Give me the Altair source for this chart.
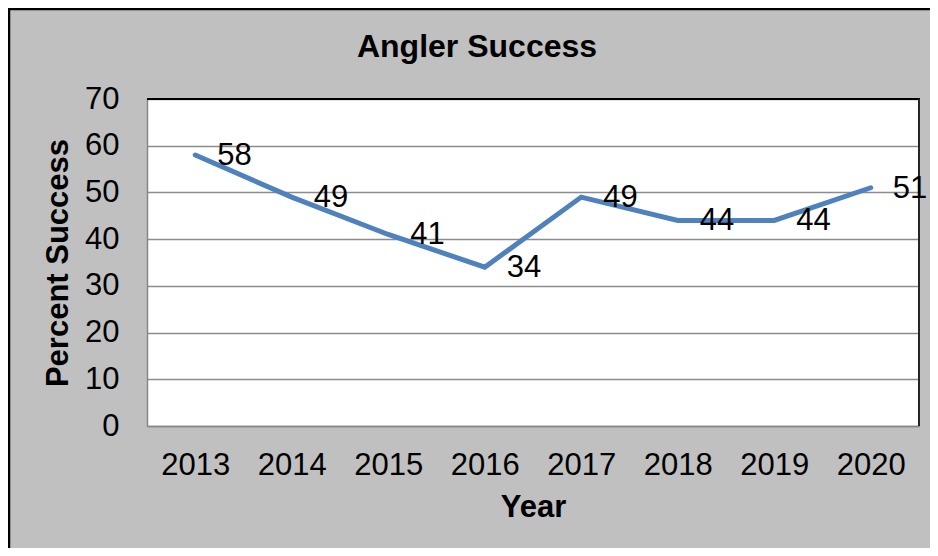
import altair as alt
import pandas as pd

years = ["2013", "2014", "2015", "2016", "2017", "2018", "2019", "2020"]
success = [58, 49, 41, 34, 49, 44, 44, 51]
y_ticks = [0, 10, 20, 30, 40, 50, 60, 70]
chart_title = "Angler Success"

FONT = "Liberation Sans"
PW, PH = 772, 327
PAD_L, PAD_T, PAD_R, PAD_B = 139, 91, 11, 122

df = pd.DataFrame({"Year": years, "Success": success})

x_enc = alt.X("Year:O", sort=years,
              scale=alt.Scale(type="point", padding=0.5),
              axis=alt.Axis(title="Year", labelAngle=0, ticks=False, grid=False,
                            labelPadding=24, titlePadding=12,
                            domainColor="#868686", domainWidth=1.5))
y_enc = alt.Y("Success:Q", scale=alt.Scale(domain=[0, 70], nice=False),
              axis=alt.Axis(title="Percent Success", values=y_ticks, ticks=False,
                            labelPadding=28, titlePadding=10,
                            domainColor="#868686", domainWidth=1.5,
                            gridColor="#8c8c8c", gridWidth=1.5))

line = alt.Chart(df).mark_line(color="#4f81bd", strokeWidth=5, strokeCap="round",
                               strokeJoin="miter").encode(x=x_enc, y=y_enc)
labels = alt.Chart(df).mark_text(align="left", baseline="middle", dx=22, dy=1,
                                 fontSize=31, font=FONT, color="black").encode(
    x=alt.X("Year:O", sort=years), y="Success:Q", text="Success:Q")

one = pd.DataFrame({"t": [chart_title]})
top_border = alt.Chart(one).mark_rule(color="black", strokeWidth=2).encode(
    x=alt.value(0), x2=alt.value(PW + 1), y=alt.value(0))
right_border = alt.Chart(one).mark_rule(color="#262626", strokeWidth=2).encode(
    x=alt.value(PW), y=alt.value(0), y2=alt.value(PH))
outer_top = alt.Chart(one).mark_rule(color="black", strokeWidth=2.5).encode(
    x=alt.value(-PAD_L), x2=alt.value(PW + PAD_R), y=alt.value(-PAD_T + 1))
outer_left = alt.Chart(one).mark_rule(color="black", strokeWidth=2.5).encode(
    x=alt.value(-PAD_L + 1), y=alt.value(-PAD_T), y2=alt.value(PH + PAD_B))
title_text = alt.Chart(one).mark_text(
    align="center", baseline="alphabetic", fontSize=32, font=FONT,
    fontWeight="bold", color="black").encode(
    x=alt.value(330), y=alt.value(-42), text="t:N")

chart = alt.layer(line, top_border, right_border, labels, outer_top, outer_left,
                  title_text).properties(
    width=PW, height=PH,
    background="#c0c0c0",
    padding={"left": PAD_L, "top": PAD_T, "right": PAD_R, "bottom": PAD_B},
    autosize=alt.AutoSizeParams(type="none"),
).configure_view(fill="white", stroke=None).configure_axis(
    labelFont=FONT, titleFont=FONT, labelFontSize=31, titleFontSize=31,
    titleFontWeight="bold", labelColor="black", titleColor="black"
)

chart.save("out.html", embed_options={"renderer": "svg", "actions": False})
